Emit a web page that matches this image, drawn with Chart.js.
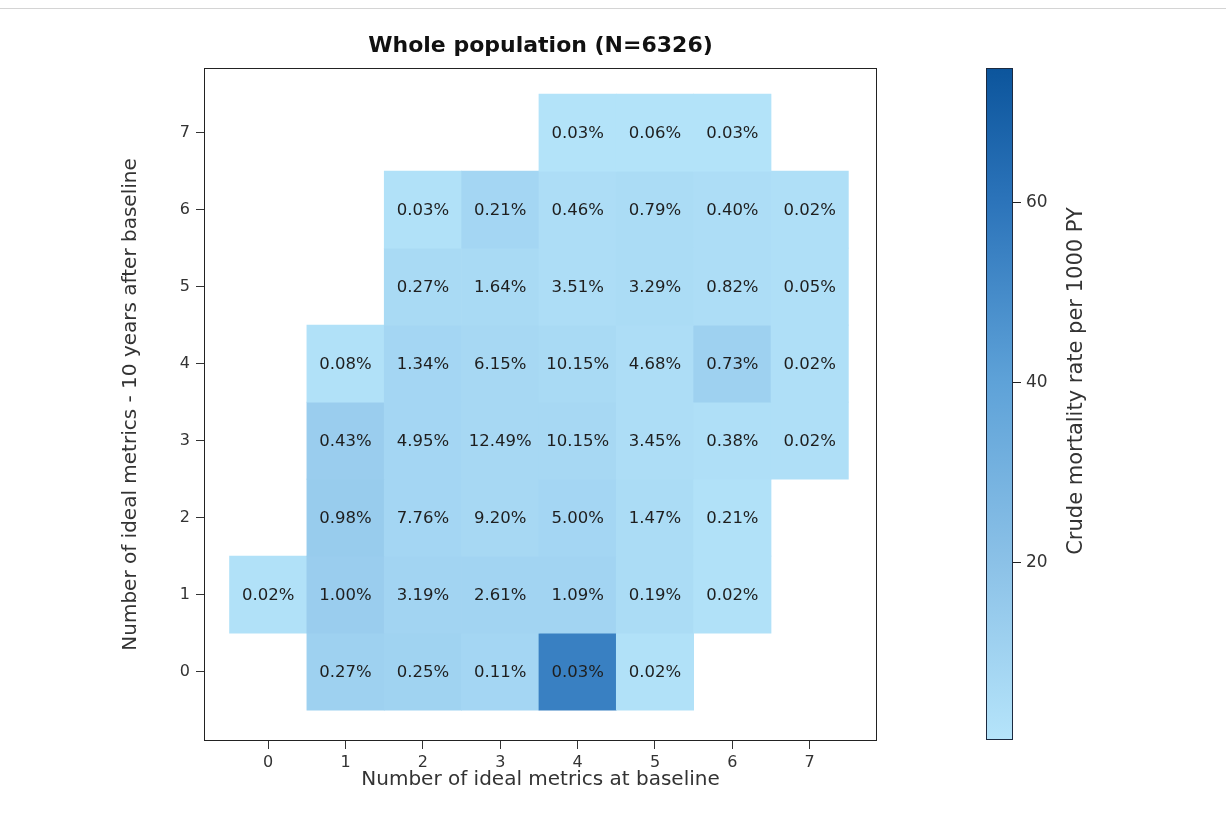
<!DOCTYPE html>
<html>
<head>
<meta charset="utf-8">
<title>Whole population (N=6326)</title>
<script src="https://cdn.jsdelivr.net/npm/chart.js@4.4.1/dist/chart.umd.min.js"></script>
<style>
  body { margin: 0; background: #fff; }
  .topline { position: absolute; left: 0; top: 8px; width: 1226px; height: 1px; background: #d4d4d4; }
  #heatmap { position: absolute; left: 0; top: 0; }
  #colorbar { position: absolute; left: 940px; top: 0; }
</style>
</head>
<body>
<div class="topline"></div>
<canvas id="heatmap" width="940" height="836"></canvas>
<canvas id="colorbar" width="286" height="836"></canvas>
<script>
const metricTicks = [0, 1, 2, 3, 4, 5, 6, 7];
const rateTicks = [20, 40, 60];

// share of the cohort (%) — rows: ideal metrics 10 years later (0..7), cols: at baseline (0..7)
const sharePct = [
  [null, 0.27, 0.25, 0.11, 0.03, 0.02, null, null],
  [0.02, 1.00, 3.19, 2.61, 1.09, 0.19, 0.02, null],
  [null, 0.98, 7.76, 9.20, 5.00, 1.47, 0.21, null],
  [null, 0.43, 4.95, 12.49, 10.15, 3.45, 0.38, 0.02],
  [null, 0.08, 1.34, 6.15, 10.15, 4.68, 0.73, 0.02],
  [null, null, 0.27, 1.64, 3.51, 3.29, 0.82, 0.05],
  [null, null, 0.03, 0.21, 0.46, 0.79, 0.40, 0.02],
  [null, null, null, null, 0.03, 0.06, 0.03, null],
];

// crude mortality rate per 1000 PY, same layout
const mortalityRate = [
  [null, 11, 10, 8, 55, 2, null, null],
  [2, 13, 9, 9, 9, 5, 2, null],
  [null, 14, 8, 7, 8, 5, 2, null],
  [null, 13, 8, 7, 7, 4, 3, 3],
  [null, 2, 8, 7, 6, 4, 11, 3],
  [null, null, 6, 6, 4, 5, 4, 3],
  [null, null, 2, 8, 4, 5, 4, 3],
  [null, null, null, null, 1, 1, 1, null],
];

const rateMin = 0.2, rateMax = 75;
const rateStops = [0.2, 20, 40, 60, 75];
const stopColors = ['#b5e4fa', '#8bc1e7', '#5ea2d8', '#2c74ba', '#0c559c'];

const FONT = "'DejaVu Sans', 'Liberation Sans', sans-serif";

function hexRgb(h) {
  return [1, 3, 5].map(i => parseInt(h.slice(i, i + 2), 16));
}

function rateColor(v) {
  let i = 1;
  while (i < rateStops.length - 1 && v > rateStops[i]) i++;
  const t = Math.min(1, Math.max(0, (v - rateStops[i - 1]) / (rateStops[i] - rateStops[i - 1])));
  const a = hexRgb(stopColors[i - 1]), b = hexRgb(stopColors[i]);
  const c = a.map((x, k) => Math.round(x + (b[k] - x) * t));
  return `rgb(${c[0]},${c[1]},${c[2]})`;
}

// one floating bar per non-empty cell, spanning row-0.5 .. row+0.5
const cells = [];
sharePct.forEach((row, y) => {
  row.forEach((pct, x) => {
    if (pct === null) return;
    cells.push({ x, y: [y - 0.5, y + 0.5], pct, rate: mortalityRate[y][x] });
  });
});

const cellLabels = {
  id: 'cellLabels',
  afterDatasetsDraw(chart) {
    const { ctx } = chart;
    const meta = chart.getDatasetMeta(0);
    ctx.save();
    ctx.font = `16.5px ${FONT}`;
    ctx.fillStyle = '#1e1e1e';
    ctx.textAlign = 'center';
    ctx.textBaseline = 'middle';
    meta.data.forEach((bar, i) => {
      const p = bar.getProps(['x', 'y', 'base'], true);
      ctx.fillText(cells[i].pct.toFixed(2) + '%', p.x, (p.y + p.base) / 2 + 1);
    });
    ctx.restore();
  }
};

const boxFrame = {
  id: 'boxFrame',
  afterDraw(chart, args, opts) {
    const { ctx, chartArea: a } = chart;
    ctx.save();
    ctx.strokeStyle = opts.color || '#222';
    ctx.lineWidth = 1;
    ctx.strokeRect(Math.round(a.left) + 0.5, Math.round(a.top) + 0.5,
      Math.round(a.right - a.left) - 1, Math.round(a.bottom - a.top) - 1);
    ctx.restore();
  }
};

// heading centred over the plotting box rather than the whole canvas
const plotHeading = {
  id: 'plotHeading',
  afterDraw(chart, args, opts) {
    if (!opts.text) return;
    const { ctx, chartArea: a } = chart;
    ctx.save();
    ctx.font = `bold 22px ${FONT}`;
    ctx.fillStyle = '#111';
    ctx.textAlign = 'center';
    ctx.textBaseline = 'middle';
    ctx.fillText(opts.text, (a.left + a.right) / 2, 46);
    ctx.restore();
  }
};

new Chart(document.getElementById('heatmap'), {
  type: 'bar',
  data: {
    datasets: [{
      data: cells,
      backgroundColor: c => c.raw ? rateColor(c.raw.rate) : '#fff',
      borderWidth: 0,
      barPercentage: 1,
      categoryPercentage: 1,
    }]
  },
  options: {
    responsive: false,
    animation: false,
    layout: { padding: { left: 119, right: 63, top: 68, bottom: 44 } },
    plugins: {
      legend: { display: false },
      tooltip: { enabled: false },
      title: { display: false },
      plotHeading: { text: 'Whole population (N=6326)' },
      boxFrame: { color: '#222' }
    },
    scales: {
      x: {
        type: 'linear',
        min: -0.83,
        max: 7.87,
        offset: false,
        afterBuildTicks: s => { s.ticks = metricTicks.map(v => ({ value: v })); },
        afterFit: s => { s.height = 51; },
        grid: { drawOnChartArea: false, offset: false, tickLength: 8, color: '#333' },
        border: { display: false },
        ticks: { color: '#333', font: { family: FONT, size: 16 }, padding: 4 },
        title: {
          display: true,
          text: 'Number of ideal metrics at baseline',
          color: '#333',
          font: { family: FONT, size: 20 },
          padding: 0
        }
      },
      y: {
        type: 'linear',
        min: -0.9,
        max: 7.84,
        afterBuildTicks: s => { s.ticks = metricTicks.map(v => ({ value: v })); },
        afterFit: s => { s.width = 85; },
        grid: { drawOnChartArea: false, tickLength: 8, color: '#333' },
        border: { display: false },
        ticks: { color: '#333', font: { family: FONT, size: 16 }, padding: 6 },
        title: {
          display: true,
          text: 'Number of ideal metrics - 10 years after baseline',
          color: '#333',
          font: { family: FONT, size: 20 },
          padding: 0
        }
      }
    }
  },
  plugins: [cellLabels, boxFrame, plotHeading]
});

// colour key: gradient painted along the rate axis
const rampFill = {
  id: 'rampFill',
  beforeDatasetsDraw(chart) {
    const { ctx, chartArea: a, scales: { y } } = chart;
    const g = ctx.createLinearGradient(0, y.getPixelForValue(rateMin), 0, y.getPixelForValue(rateMax));
    rateStops.forEach((s, i) => g.addColorStop((s - rateMin) / (rateMax - rateMin), stopColors[i]));
    ctx.save();
    ctx.fillStyle = g;
    ctx.fillRect(a.left, a.top, a.right - a.left, a.bottom - a.top);
    ctx.restore();
  }
};

const rampTitle = {
  id: 'rampTitle',
  afterDraw(chart) {
    const { ctx } = chart;
    ctx.save();
    ctx.translate(137, 381);
    ctx.rotate(-Math.PI / 2);
    ctx.font = `21px ${FONT}`;
    ctx.fillStyle = '#333';
    ctx.textAlign = 'center';
    ctx.textBaseline = 'middle';
    ctx.fillText('Crude mortality rate per 1000 PY', 0, 0);
    ctx.restore();
  }
};

new Chart(document.getElementById('colorbar'), {
  type: 'scatter',
  data: { datasets: [] },
  options: {
    responsive: false,
    animation: false,
    layout: { padding: { left: 46, right: 113, top: 68, bottom: 96 } },
    plugins: {
      legend: { display: false },
      tooltip: { enabled: false },
      boxFrame: { color: '#1c2a40' }
    },
    scales: {
      x: { display: false, min: 0, max: 1 },
      y: {
        position: 'right',
        min: rateMin,
        max: rateMax,
        afterBuildTicks: s => { s.ticks = rateTicks.map(v => ({ value: v })); },
        afterFit: s => { s.width = 100; },
        grid: { drawOnChartArea: false, tickLength: 8, color: '#222' },
        border: { display: false },
        ticks: { color: '#333', font: { family: FONT, size: 17 }, padding: 5 }
      }
    }
  },
  plugins: [rampFill, boxFrame, rampTitle]
});
</script>
</body>
</html>
